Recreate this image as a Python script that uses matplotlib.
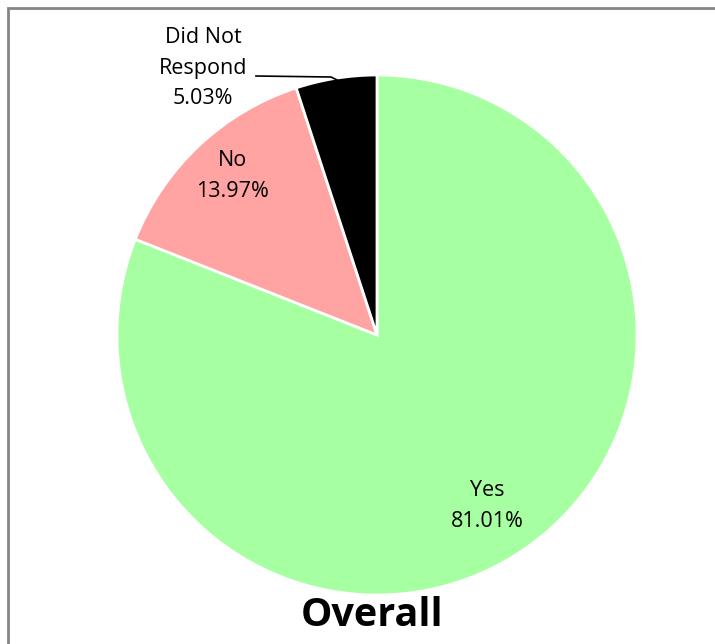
import matplotlib.pyplot as plt
from matplotlib.patches import Rectangle

# data
labels = ["Yes", "No", "Did Not\nRespond"]
shares = [81.01, 13.97, 5.03]
colors = ["#A6FFA0", "#FFA3A3", "#000000"]

W, H = 715, 644
plt.rcParams["font.family"] = ["Open Sans", "DejaVu Sans"]

fig = plt.figure(figsize=(W / 100, H / 100), dpi=100)
ax = fig.add_axes([0, 0, 1, 1])

# pixel coords from the top -> data coords
def py(y):
    return H - y

ax.pie(shares, colors=colors, startangle=90, counterclock=False,
       center=(377, py(335)), radius=260,
       wedgeprops=dict(edgecolor="white", linewidth=2))

# pie() resets the limits, so set them afterwards
ax.set_xlim(0, W)
ax.set_ylim(0, H)
ax.set_aspect("equal")
ax.axis("off")

# slice labels
pos = [(487, 506), (232, 176), (203, 68)]
for lab, val, (x, y) in zip(labels, shares, pos):
    ax.text(x, py(y), f"{lab}\n{val:.2f}%", ha="center", va="center",
            fontsize=15.5, linespacing=1.58, color="black")

# leader line for the small slice
ax.plot([256, 331, 337], [py(76), py(77), py(80)], color="black", lw=1.2)

ax.text(372, py(616), "Overall", ha="center", va="center",
        fontsize=28.5, fontweight="bold")

# outer frame (cropped at right/bottom)
fig.patches.append(Rectangle((8 / W, -0.05), 1.1, 1.05 - 8 / H,
                             transform=fig.transFigure, fill=False,
                             edgecolor="#858585", linewidth=2))

fig.savefig("out.png", dpi=100)
